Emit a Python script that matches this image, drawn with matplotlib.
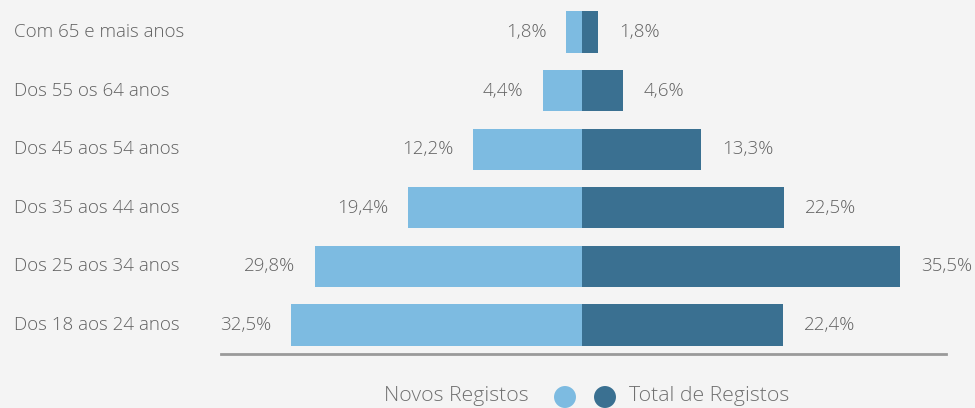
import numpy as np
import matplotlib.pyplot as plt
from matplotlib.transforms import blended_transform_factory

# --- DATA ---
age_groups = ["Dos 18 aos 24 anos", "Dos 25 aos 34 anos", "Dos 35 aos 44 anos",
              "Dos 45 aos 54 anos", "Dos 55 os 64 anos", "Com 65 e mais anos"]
novos = [32.5, 29.8, 19.4, 12.2, 4.4, 1.8]
total = [22.4, 35.5, 22.5, 13.3, 4.6, 1.8]
series_names = ["Novos Registos", "Total de Registos"]

LIGHT = "#7dbbe1"
DARK = "#3a7091"
BG = "#f4f4f4"
TXT = "#626262"

plt.rcParams['font.family'] = ['Open Sans', 'DejaVu Sans']
plt.rcParams['font.weight'] = 'light'

W, H = 975, 408
fig = plt.figure(figsize=(W / 100, H / 100), dpi=100, facecolor=BG)

# axes spans baseline from x=221 to 946 px, y from top to baseline at 354 px
ax = fig.add_axes([221 / W, (H - 354) / H, (946 - 221) / W, 354 / H])
ax.set_facecolor(BG)

y = np.arange(len(age_groups))
ax.barh(y, [-v for v in novos], height=0.7, color=LIGHT)
ax.barh(y, total, height=0.7, color=DARK)

ax.set_xlim(-40.25, 40.58)
ax.set_ylim(-0.495, 5.546)

for s in ["top", "left", "right"]:
    ax.spines[s].set_visible(False)
ax.spines["bottom"].set_color("#9a9a9a")
ax.spines["bottom"].set_linewidth(2)
ax.set_xticks([])
ax.set_yticks([])

def fmt(v):
    return f"{v:.1f}%".replace(".", ",")

# value labels
for i in y:
    ax.annotate(fmt(novos[i]), (-novos[i], i), xytext=(-14, 0), textcoords="offset points",
                ha="right", va="center", fontsize=13.5, color=TXT)
    ax.annotate(fmt(total[i]), (total[i], i), xytext=(15, 0), textcoords="offset points",
                ha="left", va="center", fontsize=13.5, color=TXT)

# category labels at left edge of figure
trans = blended_transform_factory(fig.transFigure, ax.transData)
for i, name in enumerate(age_groups):
    ax.text(14 / W, i, name, transform=trans, ha="left", va="center",
            fontsize=13.5, color=TXT, clip_on=False)

# legend at bottom
ly = (H - 396) / H
fig.text(529 / W, ly, series_names[0], ha="right", va="center", fontsize=15.3, color="#707070")
fig.text(629 / W, ly, series_names[1], ha="left", va="center", fontsize=15.3, color="#707070")
lax = fig.add_axes([0, 0, 1, 1], facecolor="none")
lax.set_xlim(0, W)
lax.set_ylim(H, 0)
lax.axis("off")
lax.scatter([565, 605], [397, 397], s=250, c=[LIGHT, DARK], edgecolors="none")

fig.savefig("out.png", dpi=100, facecolor=BG)
